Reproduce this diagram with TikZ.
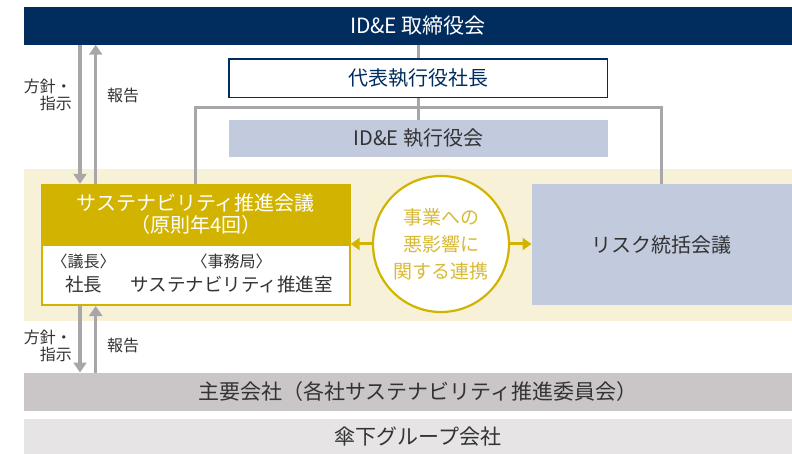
\documentclass[tikz,border=0pt]{standalone}
\usepackage{fontspec}
\setmainfont{Noto Sans CJK JP}
\usepackage{xcolor}
\usetikzlibrary{arrows.meta, positioning, calc}

\definecolor{navy}{HTML}{002D5E}
\definecolor{gold}{HTML}{D2B400}
\definecolor{goldtext}{HTML}{D8BA36}
\definecolor{cream}{HTML}{F7F1D7}
\definecolor{paleblue}{HTML}{C2CADD}
\definecolor{linegray}{HTML}{A8A6A9}
\definecolor{bargray}{HTML}{CAC6C7}
\definecolor{barlight}{HTML}{E6E4E5}
\definecolor{textdark}{HTML}{333333}

\newcommand{\fs}[1]{\fontsize{#1}{#1}\selectfont}

\begin{document}
\begin{tikzpicture}[
            x=1pt, y=-1pt,
            % ---- styles ----
            bar/.style = {rectangle, minimum width=788pt, inner sep=0pt, text=textdark, font=\fs{21pt}},
            midbox/.style = {rectangle, minimum width=378.7pt, inner sep=0pt, font=\fs{20pt}},
            councilhead/.style = {rectangle, fill=gold, text=white, minimum width=310pt, minimum height=61pt,
                inner sep=0pt, align=center, font=\fontsize{20pt}{22pt}\selectfont},
            councilbody/.style = {rectangle, draw=gold, line width=2pt, fill=white, minimum width=308pt,
                minimum height=60pt, inner sep=0pt},
            linkcircle/.style = {circle, draw=gold, line width=2.2pt, fill=white, minimum size=136pt,
                inner sep=0pt, text=goldtext, align=center, font=\fontsize{19pt}{27pt}\selectfont},
            note/.style = {inner sep=0pt, text=textdark, font=\fontsize{16pt}{17pt}\selectfont},
            flow/.style = {draw=linegray, line width=3.5pt, -{Triangle[length=10pt, width=13pt]}},
            linkarrow/.style = {draw=gold, line width=3pt, -{Triangle[length=9pt, width=12pt]}},
            frameline/.style = {draw=linegray, line width=3pt}
        ]
        \useasboundingbox (0,0) rectangle (792,454);

        % ===================== top =====================
        \node[bar, fill=navy, text=white, minimum height=37.5pt] (board) at (418,25.8) {ID\&E 取締役会};
        \node[midbox, draw=navy, line width=1.2pt, fill=white, text=navy, minimum height=38.7pt]
            (president) at (418.3,78.3) {代表執行役社長};
        \node[midbox, fill=paleblue, text=textdark, minimum height=37pt] (execboard) at (418.3,138.5) {ID\&E 執行役会};

        % ===================== middle band =====================
        \node[rectangle, fill=cream, minimum width=788pt, minimum height=151.7pt, inner sep=0pt] (band) at (418,244.8) {};

        \node[councilbody] (councilbody) at (195.7,275) {};
        \node[councilhead] (council) at (195.7,214.5) {サステナビリティ推進会議\\（原則年4回）};

        % chair / secretariat
        \node[note] (chairlabel) at ($(councilbody.west)+(42.8,-13.3)$) {〈議長〉};
        \node[inner sep=0pt, text=textdark, font=\fs{18.5pt}, below=6pt of chairlabel] (chair) {社長};
        \node[note] (officelabel) at ($(councilbody.west)+(191,-13.3)$) {〈事務局〉};
        \node[inner sep=0pt, text=textdark, font=\fs{18.5pt}, below=6pt of officelabel] (office) {サステナビリティ推進室};

        \node[linkcircle] (link) at (441,244) {事業への\\悪影響に\\関する連携};
        \node[rectangle, fill=paleblue, text=textdark, minimum width=260.3pt, minimum height=121pt,
            inner sep=0pt, font=\fs{20pt}] (risk) at (661.9,244.5) {リスク統括会議};

        % ===================== bottom =====================
        \node[bar, fill=bargray, minimum height=38pt] (group) at (418,391.7) {主要会社（各社サステナビリティ推進委員会）};
        \node[bar, fill=barlight, minimum height=35pt] (subsid) at (418,436.5) {傘下グループ会社};

        % ---- lines ----
        \coordinate (split) at (418.3,108);
        \draw[frameline] (president.north |- board.south) -- (president.north);
        \draw[frameline] (president.south) -- (execboard.north);
        \draw[frameline] (council.north) |- (split) -| (risk.north);

        \draw[linkarrow] (link.west) -- (link.west -| councilbody.east);
        \draw[linkarrow] (link.east) -- (link.east -| risk.west);

        % policy / report arrows
        \coordinate (down) at (80,0);
        \coordinate (up) at (95.7,0);
        \draw[flow] (down |- board.south) -- (down |- council.north);
        \draw[flow] (up |- council.north) -- (up |- board.south);
        \draw[flow] (down |- councilbody.south) -- (down |- group.north);
        \draw[flow] (up |- group.north) -- (up |- councilbody.south);

        \node[note, anchor=east, align=right] (policy1) at (72,95) {方針・\\指示};
        \node[note, anchor=west] (report1) at (107,95) {報告};
        \node[note, anchor=east, align=right] (policy2) at (72,345.5) {方針・\\指示};
        \node[note, anchor=west] (report2) at (107,345) {報告};

        \end{tikzpicture}
\end{document}
